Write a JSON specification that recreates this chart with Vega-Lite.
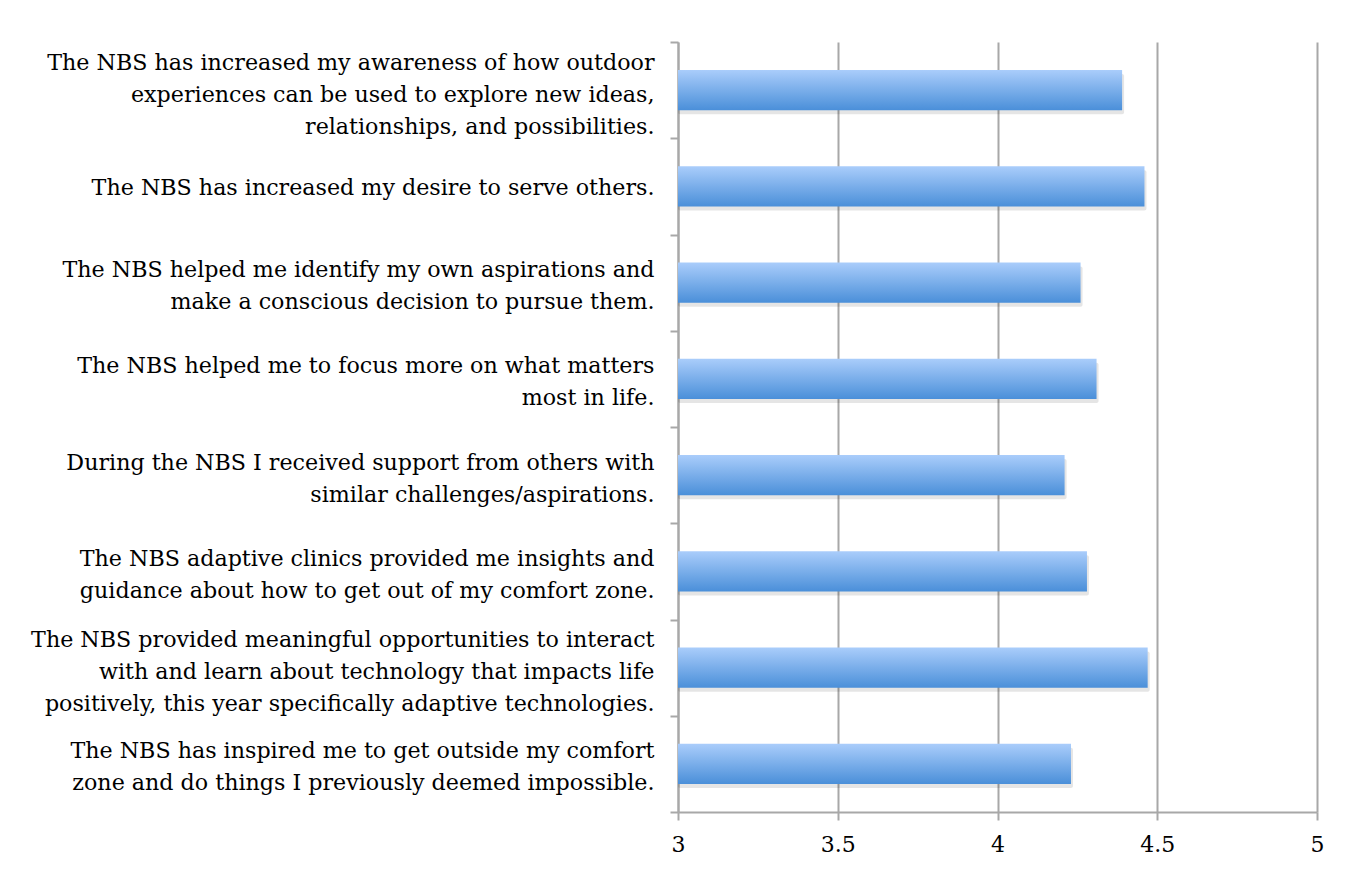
{
  "$schema": "https://vega.github.io/schema/vega-lite/v6.json",
  "width": 639,
  "height": 770,
  "autosize": {"type": "none"},
  "padding": {"left": 678, "top": 42, "right": 40, "bottom": 62},
  "background": "white",
  "data": {"values": [
    {"item": "The NBS has increased my awareness of how outdoor|experiences can be used to explore new ideas,|relationships, and possibilities.", "score": 4.39},
    {"item": "The NBS has increased my desire to serve others.", "score": 4.46},
    {"item": "The NBS helped me identify my own aspirations and|make a conscious decision to pursue them.", "score": 4.26},
    {"item": "The NBS helped me to focus more on what matters|most in life.", "score": 4.31},
    {"item": "During the NBS I received support from others with|similar challenges/aspirations.", "score": 4.21},
    {"item": "The NBS adaptive clinics provided me insights and|guidance about how to get out of my comfort zone.", "score": 4.28},
    {"item": "The NBS provided meaningful opportunities to interact|with and learn about technology that impacts life|positively, this year specifically adaptive technologies.", "score": 4.47},
    {"item": "The NBS has inspired me to get outside my comfort|zone and do things I previously deemed impossible.", "score": 4.23}
  ]},
  "encoding": {
    "y": {
      "field": "item", "type": "nominal", "sort": null,
      "scale": {"paddingInner": 0, "paddingOuter": 0},
      "axis": {
        "title": null, "labelExpr": "split(datum.label, '|')",
        "labelFont": "DejaVu Serif", "labelFontSize": 22.2, "labelColor": "#000000",
        "labelLimit": 0, "labelPadding": 16, "labelLineHeight": 32,
        "labelOffset": {"condition": [
          {"test": "length(split(datum.value, '|')) == 3", "value": -28},
          {"test": "length(split(datum.value, '|')) == 2", "value": -13}
        ], "value": 1},
        "tickBand": "extent", "tickSize": 8, "tickColor": "#a8a8a8", "tickWidth": 2,
        "domainColor": "#a8a8a8", "domainWidth": 2, "grid": false
      }
    },
    "x": {
      "field": "score", "type": "quantitative",
      "scale": {"domain": [3, 5], "zero": false, "nice": false},
      "axis": {
        "title": null, "values": [3, 3.5, 4, 4.5, 5], "format": "~g", "labelFlush": false,
        "labelFont": "DejaVu Serif", "labelFontSize": 22, "labelColor": "#000000",
        "labelPadding": 14, "tickSize": 8, "tickColor": "#a8a8a8", "tickWidth": 2,
        "domainColor": "#a8a8a8", "domainWidth": 2,
        "grid": true, "gridColor": "#a8a8a8", "gridWidth": 2
      }
    },
    "x2": {"datum": 3}
  },
  "layer": [
    {
      "mark": {"type": "bar", "height": {"band": 0.42}, "color": "#000000", "opacity": 0.1, "yOffset": 4, "xOffset": 2, "cornerRadius": 2}
    },
    {
      "mark": {
        "type": "bar", "height": {"band": 0.42},
        "color": {"gradient": "linear", "x1": 0, "y1": 0, "x2": 0, "y2": 1, "stops": [{"offset": 0, "color": "#aacdfb"}, {"offset": 1, "color": "#4a8fd9"}]}
      }
    }
  ],
  "config": {"view": {"stroke": null}}
}
